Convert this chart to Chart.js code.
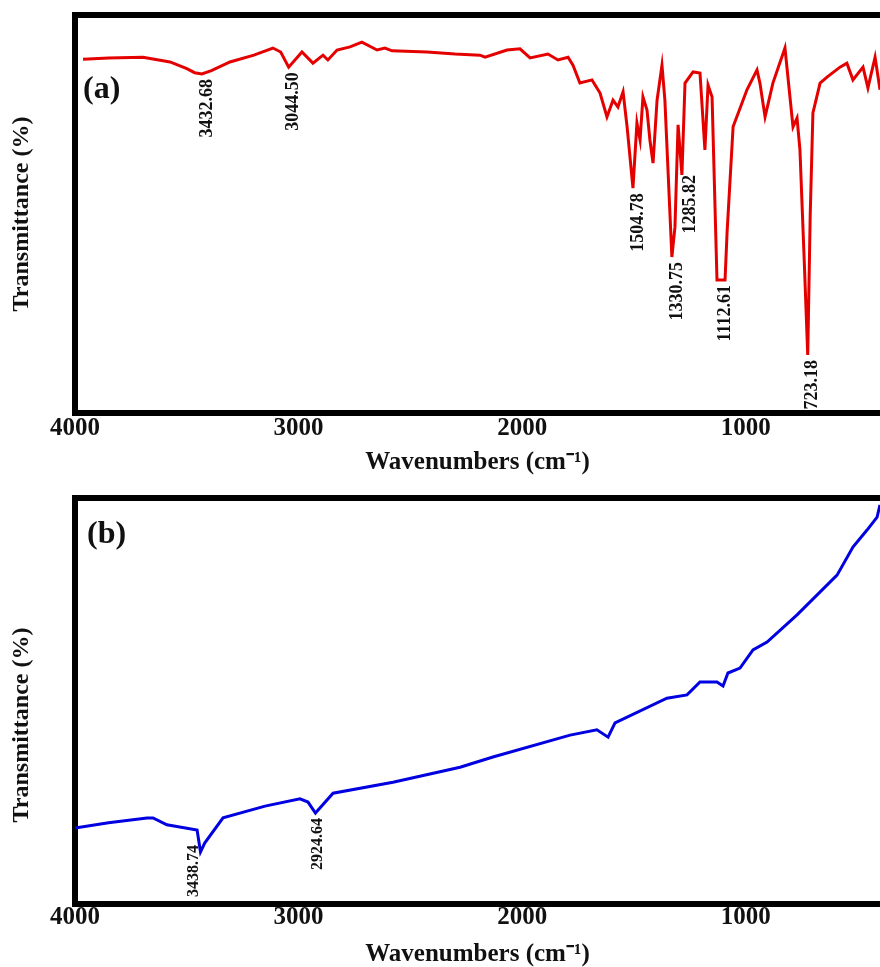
<!DOCTYPE html>
<html>
<head>
<meta charset="utf-8">
<script src="https://cdn.jsdelivr.net/npm/chart.js@4.4.1/dist/chart.umd.min.js"></script>
<style>
  html, body { margin: 0; padding: 0; background: #fff; overflow: hidden; }
  .panel { position: relative; width: 880px; }
  #wrapA { height: 483px; }
  #wrapB { height: 484px; }
</style>
</head>
<body>
<div class="panel" id="wrapA"><canvas id="specA"></canvas></div>
<div class="panel" id="wrapB"><canvas id="specB"></canvas></div>
<script>
const SERIF = "'Liberation Serif', 'Times New Roman', serif";

// axis ticks (cm-1)
const tickValues = [4000, 3000, 2000, 1000];

// spectrum (a)
const waveA = [3964, 3850, 3696, 3575, 3500, 3465, 3432.68, 3390, 3307, 3200, 3115, 3080, 3044.50,
  2985, 2936, 2891, 2869, 2828, 2770, 2717, 2649, 2614, 2582, 2426, 2300, 2189, 2166, 2068,
  2010, 1965, 1885, 1840, 1795, 1773, 1742, 1688, 1652, 1621, 1594, 1572, 1549, 1531, 1504.78,
  1487, 1473, 1460, 1442, 1429, 1415, 1397, 1375, 1362, 1330.75, 1317, 1303, 1285.82, 1272,
  1236, 1205, 1183, 1169, 1151, 1129, 1112.61, 1093, 1084, 1057, 995, 950, 937, 914, 879,
  825, 789, 771, 758, 740, 723.18, 712, 700, 668, 637, 579, 548, 521, 476, 454, 422, 400];
const transA = [88.9, 89.2, 89.4, 88.2, 86.5, 85.5, 85.2, 86.0, 88.2, 89.9, 91.7, 90.7, 86.9,
  90.7, 87.9, 89.9, 88.7, 91.2, 92.0, 93.2, 91.2, 91.7, 91.0, 90.7, 90.2, 89.9, 89.4, 91.2,
  91.5, 89.2, 90.2, 88.7, 89.4, 87.4, 82.9, 83.7, 80.4, 74.4, 78.6, 76.9, 80.7, 71.9, 56.5,
  72.9, 68.6, 79.4, 76.1, 68.6, 62.8, 78.6, 87.4, 78.6, 39.2, 46.7, 72.4, 59.8, 82.9,
  85.7, 85.4, 66.1, 82.4, 79.4, 33.4, 33.4, 33.4, 45.2, 71.9, 81.2, 86.2, 82.9, 74.4, 82.9,
  91.7, 71.9, 74.1, 66.1, 40.0, 14.6, 50.0, 75.4, 82.9, 84.4, 86.9, 87.9, 83.7, 86.9, 81.7, 89.4, 81.2];
const peaksA = [3432.68, 3044.50, 1504.78, 1330.75, 1285.82, 1112.61, 723.18];

// spectrum (b)
const waveB = [4000, 3850, 3678, 3651, 3589, 3454, 3438.74, 3420, 3338, 3150, 2994, 2958,
  2924.64, 2846, 2578, 2278, 2131, 1786, 1666, 1616, 1585, 1353, 1263, 1205, 1129, 1102,
  1080, 1026, 968, 905, 771, 592, 521, 458, 413, 400];
const transB = [18.7, 20.0, 21.2, 21.2, 19.5, 18.2, 12.8, 15.0, 21.2, 24.1, 25.9, 25.1,
  22.4, 27.3, 30.0, 33.7, 36.2, 41.6, 42.9, 41.1, 44.6, 50.7, 51.5, 54.7, 54.7, 53.7,
  56.9, 58.1, 62.6, 64.5, 71.2, 81.0, 87.9, 92.1, 95.3, 98.3];
const peaksB = [3438.74, 2924.64];

// vertical peak labels, anchored just below each minimum
const peakLabels = {
  id: 'peakLabels',
  afterDatasetsDraw(chart, args, opts) {
    const { ctx, scales: { x, y } } = chart;
    const pts = chart.data.datasets[0].data;
    ctx.save();
    ctx.font = opts.font;
    ctx.fillStyle = '#111';
    ctx.textAlign = 'right';
    ctx.textBaseline = 'middle';
    opts.peaks.forEach(wn => {
      const p = pts.find(d => d.x === wn);
      const nudge = (opts.nudge && opts.nudge[wn]) || opts.offset;
      ctx.save();
      ctx.translate(x.getPixelForValue(p.x) + nudge[0], y.getPixelForValue(p.y) + nudge[1]);
      ctx.rotate(-Math.PI / 2);
      ctx.fillText(wn.toFixed(2), 0, 0);
      ctx.restore();
    });
    ctx.restore();
  }
};

// "(a)" / "(b)" tag in the top-left corner of the plot
const panelTag = {
  id: 'panelTag',
  afterDraw(chart, args, opts) {
    const { ctx, chartArea } = chart;
    ctx.save();
    ctx.font = 'bold 32px ' + SERIF;
    ctx.fillStyle = '#111';
    ctx.textBaseline = 'alphabetic';
    ctx.fillText(opts.text, chartArea.left + opts.dx, chartArea.top + opts.dy);
    ctx.restore();
  }
};

function makeSpectrum(canvasId, wave, trans, color, tag, peaks, cfg) {
  return new Chart(document.getElementById(canvasId), {
    type: 'line',
    data: {
      datasets: [{
        data: wave.map((w, i) => ({ x: w, y: trans[i] })),
        borderColor: color,
        borderWidth: 3,
        pointRadius: 0,
        tension: 0,
        fill: false
      }]
    },
    options: {
      responsive: true,
      maintainAspectRatio: false,
      animation: false,
      events: [],
      layout: { padding: { left: 10, top: 15, right: 0, bottom: cfg.padBottom } },
      scales: {
        x: {
          type: 'linear', reverse: true, min: 400, max: 4000,
          afterBuildTicks: s => { s.ticks = tickValues.map(v => ({ value: v })); },
          afterFit: s => { s.height = cfg.xHeight; },
          grid: { display: false, drawTicks: false },
          border: { display: true, width: 6, color: '#000' },
          ticks: { color: '#111', padding: cfg.tickPad, maxRotation: 0, autoSkip: false,
                   callback: v => String(v),
                   font: { family: SERIF, size: 25, weight: 'bold' } },
          title: { display: true, text: 'Wavenumbers (cm\u207B\u00B9)', color: '#111',
                   padding: { top: 0, bottom: 0 },
                   font: { family: SERIF, size: 25, weight: 'bold', lineHeight: 1 } }
        },
        xTop: {
          type: 'linear', position: 'top', reverse: true, min: 400, max: 4000,
          afterFit: s => { s.height = 0; },
          grid: { display: false, drawTicks: false },
          border: { display: true, width: 6, color: '#000' },
          ticks: { display: false }
        },
        y: {
          min: 0, max: 100,
          afterFit: s => { s.width = 65; },
          grid: { display: false, drawTicks: false },
          border: { display: true, width: 6, color: '#000' },
          ticks: { display: false },
          title: { display: true, text: cfg.yTitle, color: '#111',
                   padding: { top: 0, bottom: 0 },
                   font: { family: SERIF, size: 24, weight: 'bold', lineHeight: 1 } }
        }
      },
      plugins: {
        legend: { display: false },
        tooltip: { enabled: false },
        peakLabels: { peaks: peaks, font: cfg.labelFont, offset: cfg.offset, nudge: cfg.nudge },
        panelTag: { text: tag, dx: cfg.tagDx, dy: cfg.tagDy }
      }
    },
    plugins: [peakLabels, panelTag]
  });
}

makeSpectrum('specA', waveA, transA, '#e50000', '(a)', peaksA, {
  padBottom: 8, xHeight: 62, tickPad: 1,
  yTitle: 'Transmittance (%)',
  labelFont: 'bold 18px ' + SERIF, offset: [5, 5],
  nudge: { 1285.82: [8, 0] },
  tagDx: 8, tagDy: 83
});

// title on the lower panel sits a little below the middle of the axis
makeSpectrum('specB', waveB, transB, '#0000e0', '(b)', peaksB, {
  padBottom: 0, xHeight: 63, tickPad: -1,
  yTitle: 'Transmittance (%)\u00A0\u00A0\u00A0\u00A0\u00A0\u00A0\u00A0\u00A0',
  labelFont: 'bold 16px ' + SERIF, offset: [2, 5],
  nudge: { 3438.74: [-7, -7] },
  tagDx: 12, tagDy: 45
});
</script>
</body>
</html>
